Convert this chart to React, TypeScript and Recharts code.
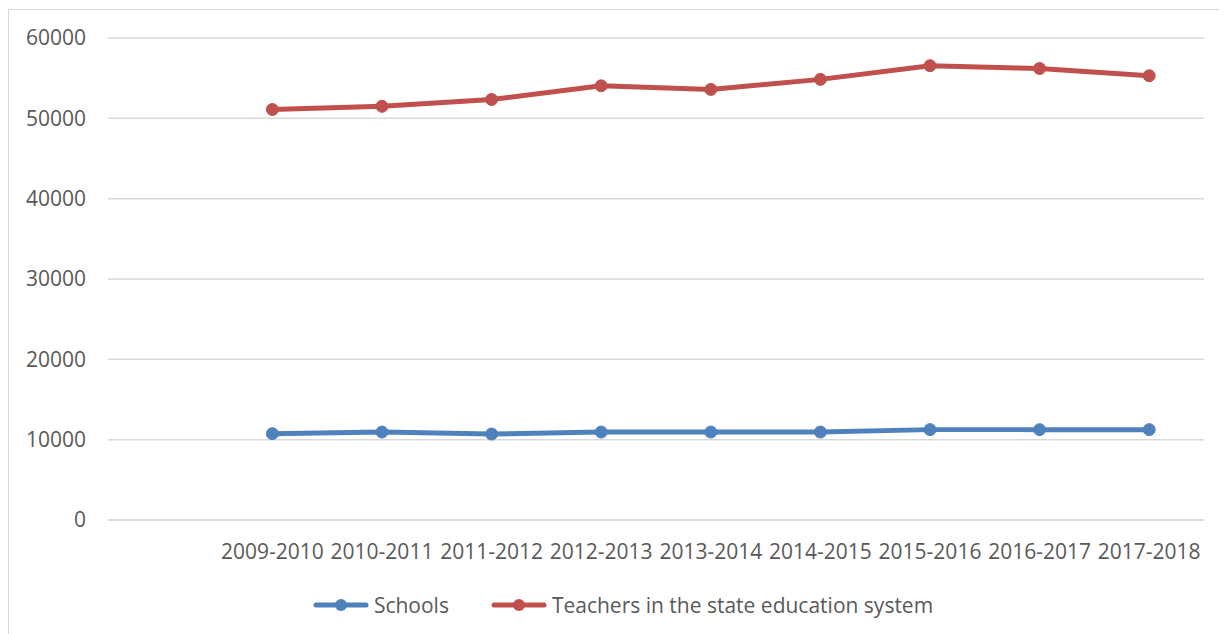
import { CartesianGrid, Legend, Line, LineChart, XAxis, YAxis } from 'recharts'

const years = ['', '2009-2010', '2010-2011', '2011-2012', '2012-2013', '2013-2014', '2014-2015', '2015-2016', '2016-2017', '2017-2018']
const schools = [null, 10750, 10950, 10700, 10950, 10950, 10950, 11250, 11250, 11250]
const teachers = [null, 51100, 51500, 52350, 54050, 53600, 54850, 56550, 56200, 55300]
const yTicks = [0, 10000, 20000, 30000, 40000, 50000, 60000]

const BLUE = '#4f81bd'
const RED = '#c0504d'
const TEXT = '#595959'
const GRID = '#d9d9d9'
const FONT = '"Open Sans", sans-serif'

const data = years.map((year, i) => ({ year, schools: schools[i], teachers: teachers[i] }))

const series = [
  { key: 'schools', name: 'Schools', color: BLUE },
  { key: 'teachers', name: 'Teachers in the state education system', color: RED },
]

function LegendContent() {
  return (
    <div style={{ display: 'flex', justifyContent: 'center', alignItems: 'center', fontFamily: FONT, fontSize: 21, color: TEXT, height: 24, paddingLeft: 10 }}>
      {series.map((s, i) => (
        <div key={s.key} style={{ display: 'flex', alignItems: 'center', marginLeft: i ? 42 : 0 }}>
          <svg width={56} height={14} style={{ marginRight: 5 }}>
            <line x1={3} y1={7} x2={53} y2={7} stroke={s.color} strokeWidth={5} strokeLinecap="round" />
            <circle cx={28} cy={7} r={6} fill={s.color} />
          </svg>
          <span>{s.name}</span>
        </div>
      ))}
    </div>
  )
}

export default function App() {
  return (
    <div style={{ marginTop: 1, width: 1218, height: 624, borderTop: `1px solid ${GRID}`, borderLeft: `1px solid ${GRID}` }}>
      <LineChart width={1218} height={624} data={data} margin={{ top: 28, right: 23, left: 0, bottom: 0 }}>
        <CartesianGrid vertical={false} stroke={GRID} strokeWidth={1.5} />
        <XAxis
          dataKey="year"
          scale="band"
          height={114}
          tickLine={false}
          tickMargin={18}
          axisLine={{ stroke: GRID, strokeWidth: 1.5 }}
          tick={{ fill: TEXT, fontSize: 21, fontFamily: FONT }}
          interval={0}
        />
        <YAxis
          width={99}
          domain={[0, 60000]}
          ticks={yTicks}
          axisLine={false}
          tickLine={false}
          tickMargin={16}
          tick={{ fill: TEXT, fontSize: 21, fontFamily: FONT }}
        />
        <Legend verticalAlign="middle" align="center" wrapperStyle={{ top: 583, left: 0, width: 1218 }} content={<LegendContent />} />
        {series.map((s) => (
          <Line
            key={s.key}
            dataKey={s.key}
            name={s.name}
            stroke={s.color}
            strokeWidth={5}
            dot={{ r: 6, fill: s.color, stroke: s.color, strokeWidth: 1 }}
            isAnimationActive={false}
          />
        ))}
      </LineChart>
    </div>
  )
}
